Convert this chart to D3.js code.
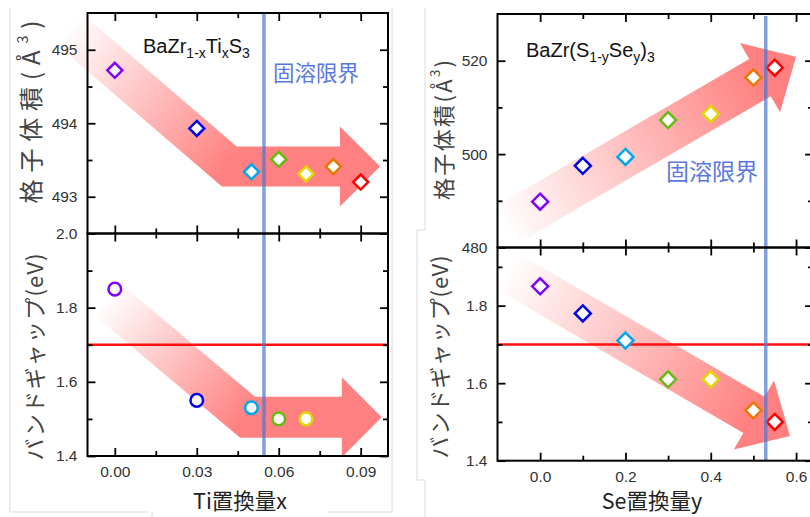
<!DOCTYPE html>
<html><head><meta charset="utf-8">
<script src="https://cdn.jsdelivr.net/npm/d3@7/dist/d3.min.js"></script>
<style>body{margin:0;background:#fff}svg{display:block}</style>
</head><body>
<svg id="c" width="810" height="517"></svg>
<script>
// ---------------- data ----------------
const tiX = [0, 0.03, 0.05, 0.06, 0.07, 0.08, 0.09];
const tiVolume = [494.72, 493.93, 493.34, 493.51, 493.31, 493.41, 493.20];
const tiGapX = [0, 0.03, 0.05, 0.06, 0.07];
const tiGap = [1.85, 1.55, 1.53, 1.50, 1.50];
const seY = [0, 0.1, 0.2, 0.3, 0.4, 0.5, 0.55];
const seVolume = [489.8, 497.5, 499.4, 507.3, 508.6, 516.4, 518.5];
const seGap = [1.85, 1.78, 1.71, 1.61, 1.61, 1.53, 1.50];
const pointColors = ["#8000ff", "#0000ee", "#00a8e8", "#66bb11", "#e0d800", "#e87800", "#ff0000"];
const tiLimit = 0.0546, seLimit = 0.529, gapTarget = 1.70;
const tiXTicks = [0, 0.03, 0.06, 0.09], tiXMinor = [0.015, 0.045, 0.075];
const tiVolTicks = [493, 494, 495], tiVolMinor = [493.5, 494.5];
const gapTicksL = [1.4, 1.6, 1.8, 2.0], gapMinor = [1.5, 1.7, 1.9];
const seXTicks = [0, 0.2, 0.4, 0.6], seXMinor = [0.1, 0.3, 0.5];
const seVolTicks = [480, 500, 520], seVolMinor = [490, 510];
const gapTicksR = [1.4, 1.6, 1.8];
// arrow centre lines (data coords): start, [corner], head base, tip
const arrowTiVol = [[-0.0171, 495.296], [0.0419, 493.413], [0.0824, 493.413], [0.0971, 493.413]];
const arrowTiGap = [[-0.0033, 1.826], [0.0486, 1.5046], [0.0831, 1.5046], [0.0977, 1.5046]];
const arrowSeVol = [[-0.0871, 484.39], [0.5155, 516.36], [0.600, 520.86]];
const arrowSeGap = [[-0.0824, 1.892], [0.5012, 1.518], [0.5858, 1.4637]];

// ---------------- layout ----------------
const svg = d3.select("#c");
const defs = svg.append("defs");
const xL = d3.scaleLinear([-0.01, 0.1], [87.5, 388]);
const yLt = d3.scaleLinear([492.5, 495.5], [233.5, 13]);
const yLb = d3.scaleLinear([1.4, 2.0], [456, 233.5]);
const xR = d3.scaleLinear([-0.1, 0.64], [497.5, 497.5 + 0.74 * 426.5]);
const yRt = d3.scaleLinear([480, 530], [247.5, 14]);
const yRb = d3.scaleLinear([1.4, 1.95], [460.7, 247.5]);

const numFont = "'Liberation Sans', Arial, sans-serif";
const jpFont = "'Noto Sans CJK JP', sans-serif";

// faint frame lines (pasted image borders)
const frame = svg.append("g").attr("stroke", "#dcdcdc").attr("fill", "none").attr("stroke-width", 1);
[[10,8,10,512],[10,512,148,512],[152,512,152,517],[328,512,392,512],[392,8,392,512],
 [425,8,425,230],[417,230,425,230],[417,230,417,480],[417,480,425,480],[425,480,425,517]]
 .forEach(l => frame.append("line").attr("x1",l[0]).attr("y1",l[1]).attr("x2",l[2]).attr("y2",l[3]));

// arrows
function arrowPath(pts, w, hw) {
  const n = pts.length;
  const P = pts;
  const segN = [];
  for (let i = 0; i < n - 2; i++) {
    const dx = P[i+1][0]-P[i][0], dy = P[i+1][1]-P[i][1], L = Math.hypot(dx, dy);
    segN.push([-dy/L, dx/L]);
  }
  const left = [], right = [];
  for (let i = 0; i < n - 1; i++) {
    let nx, ny, k = 1;
    if (i === 0) { [nx, ny] = segN[0]; }
    else if (i === n - 2) { [nx, ny] = segN[segN.length-1]; }
    else {
      const a = segN[i-1], b = segN[i];
      nx = a[0]+b[0]; ny = a[1]+b[1]; const L = Math.hypot(nx, ny); nx/=L; ny/=L;
      k = 1 / (nx*a[0] + ny*a[1]);
    }
    left.push([P[i][0]+nx*w*k, P[i][1]+ny*w*k]);
    right.push([P[i][0]-nx*w*k, P[i][1]-ny*w*k]);
  }
  const [bx, by] = P[n-2]; const [nx, ny] = segN[segN.length-1];
  const head = [[bx+nx*hw, by+ny*hw], P[n-1], [bx-nx*hw, by-ny*hw]];
  const all = left.concat(head).concat(right.reverse());
  return "M" + all.map(p => p.join(",")).join("L") + "Z";
}
function drawArrow(data, xs, ys, id, gradEndIndex, w) {
  const pts = data.map(d => [xs(d[0]), ys(d[1])]);
  const g = defs.append("linearGradient").attr("id", id).attr("gradientUnits", "userSpaceOnUse")
    .attr("x1", pts[0][0]).attr("y1", pts[0][1]).attr("x2", pts[gradEndIndex][0]).attr("y2", pts[gradEndIndex][1]);
  g.append("stop").attr("offset", 0).attr("stop-color", "#ff8080").attr("stop-opacity", 0);
  g.append("stop").attr("offset", 1).attr("stop-color", "#ff8080").attr("stop-opacity", 1);
  svg.append("path").attr("d", arrowPath(pts, w, 40)).attr("fill", `url(#${id})`);
}
drawArrow(arrowTiVol, xL, yLt, "g1", 1, 20);
drawArrow(arrowTiGap, xL, yLb, "g2", 1, 20.5);
drawArrow(arrowSeVol, xR, yRt, "g3", 1, 21.5);
drawArrow(arrowSeGap, xR, yRb, "g4", 1, 21);

// target band-gap lines
svg.append("line").attr("x1", xL.range()[0]).attr("x2", xL.range()[1]).attr("y1", yLb(gapTarget)).attr("y2", yLb(gapTarget))
  .attr("stroke", "#ff1010").attr("stroke-width", 2.5);
svg.append("line").attr("x1", xR.range()[0]).attr("x2", xR.range()[1]).attr("y1", yRb(gapTarget)).attr("y2", yRb(gapTarget))
  .attr("stroke", "#ff1010").attr("stroke-width", 2.5);

// markers
function diamonds(xs, ys, xv, yv, r) {
  svg.append("g").selectAll("path").data(xv).join("path")
    .attr("d", (d, i) => { const cx = xs(d), cy = ys(yv[i]); return `M${cx},${cy-r}L${cx+r},${cy}L${cx},${cy+r}L${cx-r},${cy}Z`; })
    .attr("fill", "#fff").attr("stroke", (d, i) => pointColors[i]).attr("stroke-width", 2.5);
}
function circles(xs, ys, xv, yv, r) {
  svg.append("g").selectAll("circle").data(xv).join("circle")
    .attr("cx", d => xs(d)).attr("cy", (d, i) => ys(yv[i])).attr("r", r)
    .attr("fill", "#fff").attr("stroke", (d, i) => pointColors[i]).attr("stroke-width", 2.5);
}
diamonds(xL, yLt, tiX, tiVolume, 7.5);
circles(xL, yLb, tiGapX, tiGap, 6.3);
diamonds(xR, yRt, seY, seVolume, 8);
diamonds(xR, yRb, seY, seGap, 8);

// solubility limit lines
svg.append("line").attr("x1", xL(tiLimit)).attr("x2", xL(tiLimit)).attr("y1", yLt.range()[1]).attr("y2", yLb.range()[0])
  .attr("stroke", "#4a78d0").attr("stroke-opacity", 0.7).attr("stroke-width", 3.5);
svg.append("line").attr("x1", xR(seLimit)).attr("x2", xR(seLimit)).attr("y1", 16).attr("y2", yRb.range()[0])
  .attr("stroke", "#4a78d0").attr("stroke-opacity", 0.7).attr("stroke-width", 3.5);

// axes
function axesBox(xs, ys, opts) {
  const [x0, x1] = xs.range(), [y0, y1] = ys.range();
  const g = svg.append("g");
  const style = a => a.call(s => s.select(".domain").remove())
    .call(s => s.selectAll("line").attr("stroke", "#000").attr("stroke-width", 1.8))
    .call(s => s.selectAll("text").attr("fill", "#333").attr("font-size", 15.5).attr("font-family", numFont));
  const mk = (axisFn, scale, vals, size, fmt, tr) => {
    const a = axisFn(scale).tickValues(vals).tickSize(-size).tickSizeOuter(0).tickPadding(10);
    a.tickFormat(fmt ? fmt : () => "");
    g.append("g").attr("transform", tr).call(a).call(style);
  };
  mk(d3.axisBottom, xs, opts.xt, 8, opts.xLabels ? opts.xFmt : null, `translate(0,${y0})`);
  mk(d3.axisBottom, xs, opts.xm, 5, null, `translate(0,${y0})`);
  mk(d3.axisTop, xs, opts.xt, 8, null, `translate(0,${y1})`);
  mk(d3.axisTop, xs, opts.xm, 5, null, `translate(0,${y1})`);
  mk(d3.axisLeft, ys, opts.yt, 8, opts.yFmt, `translate(${x0},0)`);
  mk(d3.axisLeft, ys, opts.ym, 5, null, `translate(${x0},0)`);
  mk(d3.axisRight, ys, opts.yt, 8, null, `translate(${x1},0)`);
  mk(d3.axisRight, ys, opts.ym, 5, null, `translate(${x1},0)`);
  g.append("rect").attr("x", x0).attr("y", y1).attr("width", x1 - x0).attr("height", y0 - y1)
    .attr("fill", "none").attr("stroke", "#000").attr("stroke-width", 2);
}
axesBox(xL, yLt, {xt: tiXTicks, xm: tiXMinor, yt: tiVolTicks, ym: tiVolMinor, yFmt: d3.format("d")});
axesBox(xL, yLb, {xt: tiXTicks, xm: tiXMinor, yt: gapTicksL, ym: gapMinor, yFmt: d3.format(".1f"), xLabels: true, xFmt: d3.format(".2f")});
axesBox(xR, yRt, {xt: seXTicks, xm: seXMinor, yt: seVolTicks, ym: seVolMinor, yFmt: d3.format("d")});
axesBox(xR, yRb, {xt: seXTicks, xm: seXMinor, yt: gapTicksR, ym: gapMinor, yFmt: d3.format(".1f"), xLabels: true, xFmt: d3.format(".1f")});

// compound labels
function formula(x, y, parts) {
  const t = svg.append("text").attr("x", x).attr("y", y).attr("font-family", numFont).attr("font-size", 20).attr("fill", "#111");
  parts.forEach(p => {
    if (p[1]) t.append("tspan").text(p[0]).attr("font-size", 14).attr("dy", 5);
    else t.append("tspan").text(p[0]).attr("dy", p[2] || 0);
  });
}
formula(143, 53, [["BaZr"], ["1-x", true], ["Ti", false, -5], ["x", true], ["S", false, -5], ["3", true]]);
formula(526, 57, [["BaZr(S"], ["1-y", true], ["Se", false, -5], ["y", true], [")", false, -5], ["3", true]]);

// solubility limit labels
svg.append("text").attr("x", 273).attr("y", 81).text("固溶限界").attr("font-family", jpFont).attr("font-size", 21.5).attr("fill", "#5a78e0");
svg.append("text").attr("x", 666).attr("y", 180).text("固溶限界").attr("font-family", jpFont).attr("font-size", 23).attr("fill", "#5a78e0");

// axis titles
function yTitle(cx, cy, len, size, parts) {
  const t = svg.append("text").attr("transform", `translate(${cx},${cy}) rotate(-90)`).attr("text-anchor", "middle")
    .attr("dominant-baseline", "central").attr("font-family", jpFont).attr("font-size", size).attr("fill", "#444")
    .attr("textLength", len).attr("lengthAdjust", "spacing");
  parts.forEach(p => {
    const s = t.append("tspan").text(p[0]);
    if (p[1]) s.attr("font-size", size * 0.6).attr("dy", -size * 0.35);
    if (p[2]) s.attr("dy", p[2]);
  });
}
yTitle(29, 112, 183, 24, [["格子体積(Å"], ["3", true], [")", false, 24 * 0.35]]);
yTitle(33, 357, 207, 22, [["バンドギャップ(eV)"]]);
yTitle(442, 130, 140, 22, [["格子体積(Å"], ["3", true], [")", false, 22 * 0.35]]);
yTitle(438, 357, 203, 22, [["バンドギャップ(eV)"]]);

svg.append("text").attr("x", 240).attr("y", 499).attr("text-anchor", "middle").attr("dominant-baseline", "central")
  .attr("font-family", jpFont).attr("font-size", 21.5).attr("fill", "#222").text("Ti置換量x");
svg.append("text").attr("x", 652).attr("y", 499).attr("text-anchor", "middle").attr("dominant-baseline", "central")
  .attr("font-family", jpFont).attr("font-size", 21.5).attr("fill", "#222").text("Se置換量y");
</script>
</body></html>
